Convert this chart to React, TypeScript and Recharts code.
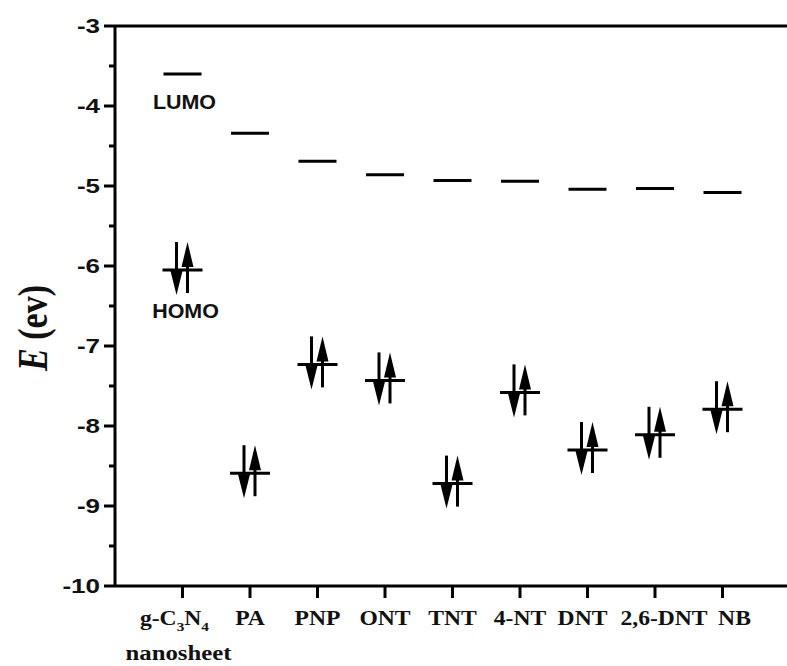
import { ScatterChart, Scatter, XAxis, YAxis, ReferenceLine } from 'recharts';

// molecules along the x axis
const CATEGORIES = ['g-C3N4', 'PA', 'PNP', 'ONT', 'TNT', '4-NT', 'DNT', '2,6-DNT', 'NB'];
// LUMO energies (eV)
const LUMO = [-3.6, -4.34, -4.69, -4.86, -4.93, -4.94, -5.04, -5.03, -5.08];
// HOMO energies (eV)
const HOMO = [-6.05, -8.59, -7.23, -7.43, -8.72, -7.58, -8.3, -8.11, -7.79];
const Y_TICKS = [-10, -9.5, -9, -8.5, -8, -7.5, -7, -6.5, -6, -5.5, -5, -4.5, -4, -3.5, -3];
const X_TICKS = [1, 2, 3, 4, 5, 6, 7, 8, 9];

const SANS = '"Liberation Sans", Arial, sans-serif';
const SERIF = '"Liberation Serif", "Times New Roman", serif';
const STRETCH = 1.18; // the original figure is stretched sideways

const lumoData = CATEGORIES.map((c, i) => ({ x: i + 1, y: LUMO[i], tag: i === 0 ? 'LUMO' : '' }));
const homoData = CATEGORIES.map((c, i) => ({ x: i + 1, y: HOMO[i], tag: i === 0 ? 'HOMO' : '' }));

const LumoShape = (props: any) => {
  const { cx, cy, payload } = props;
  return (
    <g>
      <line x1={cx - 19} x2={cx + 19} y1={cy} y2={cy} stroke="#000" strokeWidth={3} />
      {payload.tag && (
        <text transform={`translate(${cx + 2},${cy + 35}) scale(1.1,1)`} textAnchor="middle" fontFamily={SANS} fontWeight="bold" fontSize={19.5} fill="#111">
          {payload.tag}
        </text>
      )}
    </g>
  );
};

const HomoShape = (props: any) => {
  const { cx, cy, payload } = props;
  const dx = cx - 6; // spin-down
  const ux = cx + 5; // spin-up
  return (
    <g>
      <line x1={cx - 20} x2={cx + 20} y1={cy} y2={cy} stroke="#000" strokeWidth={3} />
      <line x1={dx} x2={dx} y1={cy - 28} y2={cy + 4} stroke="#000" strokeWidth={3} />
      <polygon points={`${dx - 6},${cy + 1} ${dx + 6},${cy + 1} ${dx},${cy + 25}`} fill="#000" />
      <line x1={ux} x2={ux} y1={cy - 6} y2={cy + 23} stroke="#000" strokeWidth={3} />
      <polygon points={`${ux - 6},${cy - 3} ${ux + 6},${cy - 3} ${ux},${cy - 28}`} fill="#000" />
      {payload.tag && (
        <text transform={`translate(${cx + 3},${cy + 48}) scale(1.1,1)`} textAnchor="middle" fontFamily={SANS} fontWeight="bold" fontSize={19.5} fill="#111">
          {payload.tag}
        </text>
      )}
    </g>
  );
};

const YTick = (props: any) => {
  const { x, y, payload } = props;
  const v = payload.value;
  const major = Number.isInteger(v);
  const axisX = x + 15;
  return (
    <g>
      <line x1={axisX - (major ? 11 : 6)} x2={axisX} y1={y} y2={y} stroke="#000" strokeWidth={3} />
      {major && (
        <text transform={`translate(${x},${y + 7}) scale(1.3,1)`} textAnchor="end" fontFamily={SANS} fontWeight="bold" fontSize={20} fill="#111">
          {v}
        </text>
      )}
    </g>
  );
};

// small sideways nudges so the crowded labels sit as in the original
const NUDGE: Record<string, number> = { 'DNT': -5, '2,6-DNT': 9, 'NB': 12 };

const XTick = (props: any) => {
  const { x, y, payload } = props;
  const name = CATEGORIES[payload.value - 1];
  const axisY = y - 12;
  const lx = x + (NUDGE[name] || 0);
  return (
    <g>
      <line x1={x} x2={x} y1={axisY} y2={axisY + 12} stroke="#000" strokeWidth={3} />
      {name === 'g-C3N4' ? (
        <>
          <text transform={`translate(${x - 8},${axisY + 39}) scale(${STRETCH},1)`} textAnchor="middle" fontFamily={SERIF} fontWeight="bold" fontSize={20} fill="#111">
            g-C<tspan fontSize={13} dy={6}>3</tspan><tspan dy={-6}>N</tspan><tspan fontSize={13} dy={6}>4</tspan>
          </text>
          <text transform={`translate(${x - 4},${axisY + 74}) scale(1.24,1)`} textAnchor="middle" fontFamily={SERIF} fontWeight="bold" fontSize={20} fill="#111">
            nanosheet
          </text>
        </>
      ) : (
        <text transform={`translate(${lx},${axisY + 39}) scale(${STRETCH},1)`} textAnchor="middle" fontFamily={SERIF} fontWeight="bold" fontSize={20} fill="#111">
          {name}
        </text>
      )}
    </g>
  );
};

const YLabel = (props: any) => {
  const { viewBox } = props;
  const cx = 33;
  const cy = viewBox.y + viewBox.height / 2 + 22;
  return (
    <text transform={`translate(${cx},${cy}) scale(1.25,1) rotate(-90)`} textAnchor="middle" dominantBaseline="central" fontFamily={SERIF} fontWeight="bold" fontSize={34} fill="#111">
      <tspan fontStyle="italic">E</tspan> (ev)
    </text>
  );
};

export default function App() {
  return (
    <div style={{ position: 'absolute', left: 0, top: 0, width: 787, height: 666, overflow: 'hidden', background: '#fff' }}>
      <ScatterChart width={800} height={666} margin={{ top: 26, right: 10, bottom: 0, left: 15 }}>
        <XAxis
          type="number"
          dataKey="x"
          domain={[0, 10]}
          ticks={X_TICKS}
          height={80}
          tickSize={12}
          tickMargin={0}
          tickLine={false}
          axisLine={{ stroke: '#000', strokeWidth: 3 }}
          tick={<XTick />}
          interval={0}
        />
        <YAxis
          type="number"
          dataKey="y"
          domain={[-10, -3]}
          ticks={Y_TICKS}
          width={100}
          tickSize={15}
          tickMargin={0}
          tickLine={false}
          axisLine={{ stroke: '#000', strokeWidth: 3 }}
          tick={<YTick />}
          interval={0}
          label={<YLabel />}
        />
        <ReferenceLine y={-3} stroke="#000" strokeWidth={3} />
        <Scatter data={lumoData} shape={<LumoShape />} isAnimationActive={false} />
        <Scatter data={homoData} shape={<HomoShape />} isAnimationActive={false} />
      </ScatterChart>
    </div>
  );
}
